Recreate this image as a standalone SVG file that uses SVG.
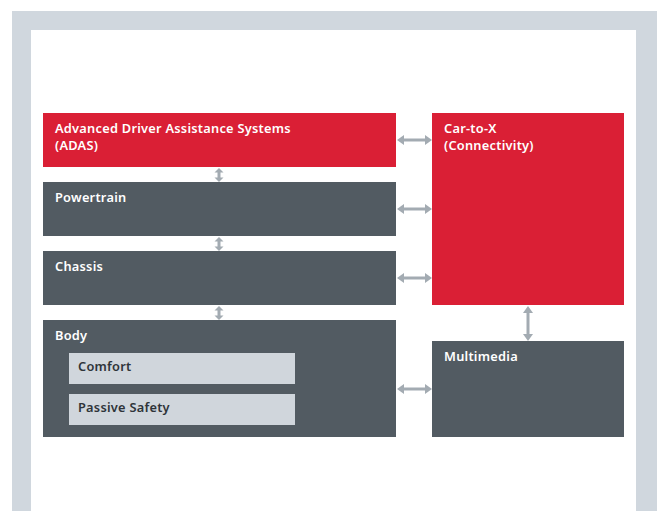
<svg xmlns="http://www.w3.org/2000/svg" width="657" height="511" viewBox="0 0 657 511">
  <style>
    .red { fill: #da1f35; }
    .dark { fill: #525b62; }
    .light { fill: #d0d6dc; }
    .lbl { font-family: "Noto Sans", "Liberation Sans", sans-serif; font-weight: 600; font-size: 12.8px; letter-spacing: 0.25px; fill: #ffffff; }
    .lbl-dark { font-family: "Noto Sans", "Liberation Sans", sans-serif; font-weight: 600; font-size: 12.8px; letter-spacing: 0.25px; fill: #2e3439; }
    .link { stroke: #a3abb2; stroke-width: 3; fill: none; }
    .head { fill: #a3abb2; }
  </style>
  <defs>
    <!-- double-headed horizontal connector, spanning 0..35 around y=0 -->
    <g id="harrow">
      <line class="link" x1="5" y1="0" x2="30" y2="0"/>
      <polygon class="head" points="0,0 7,-5 7,5"/>
      <polygon class="head" points="35,0 28,-5 28,5"/>
    </g>
    <!-- short double-headed vertical connector, spanning 0..14 below y=0 -->
    <g id="varrow">
      <line class="link" x1="0" y1="3" x2="0" y2="11"/>
      <polygon class="head" points="0,0 -4.5,4.5 4.5,4.5"/>
      <polygon class="head" points="0,14 -4.5,9.5 4.5,9.5"/>
    </g>
  </defs>

  <!-- frame -->
  <rect x="0" y="0" width="657" height="511" fill="#ffffff"/>
  <rect x="12" y="11" width="645" height="500" fill="#d0d7de"/>
  <rect x="31" y="30" width="605" height="481" fill="#ffffff"/>

  <g id="adas">
    <rect class="red" x="43" y="113" width="353" height="54"/>
    <text class="lbl" x="55" y="133">Advanced Driver Assistance Systems</text>
    <text class="lbl" x="55" y="150">(ADAS)</text>
  </g>
  <g id="powertrain">
    <rect class="dark" x="43" y="182" width="353" height="54"/>
    <text class="lbl" x="55" y="202">Powertrain</text>
  </g>
  <g id="chassis">
    <rect class="dark" x="43" y="251" width="353" height="54"/>
    <text class="lbl" x="55" y="271">Chassis</text>
  </g>
  <g id="body">
    <rect class="dark" x="43" y="320" width="353" height="117"/>
    <text class="lbl" x="55" y="340">Body</text>
  </g>
  <g id="comfort">
    <rect class="light" x="69" y="353" width="226" height="31"/>
    <text class="lbl-dark" x="78" y="371">Comfort</text>
  </g>
  <g id="passive-safety">
    <rect class="light" x="69" y="394" width="226" height="31"/>
    <text class="lbl-dark" x="78" y="412">Passive Safety</text>
  </g>
  <g id="car-to-x">
    <rect class="red" x="432" y="113" width="192" height="192"/>
    <text class="lbl" x="444" y="133">Car-to-X</text>
    <text class="lbl" x="444" y="150">(Connectivity)</text>
  </g>
  <g id="multimedia">
    <rect class="dark" x="432" y="341" width="192" height="96"/>
    <text class="lbl" x="444" y="361">Multimedia</text>
  </g>

  <g id="connectors">
    <use href="#harrow" x="397" y="140"/>
    <use href="#harrow" x="397" y="209"/>
    <use href="#harrow" x="397" y="278"/>
    <use href="#harrow" x="397" y="389"/>
    <!-- vertical links in the left stack -->
    <use href="#varrow" x="219" y="168"/>
    <use href="#varrow" x="219" y="237"/>
    <use href="#varrow" x="219" y="306"/>
    <!-- Car-to-X to Multimedia -->
    <g>
      <line class="link" x1="528" y1="311" x2="528" y2="335"/>
      <polygon class="head" points="528,306 523,313 533,313"/>
      <polygon class="head" points="528,341 523,334 533,334"/>
    </g>
  </g>
</svg>
